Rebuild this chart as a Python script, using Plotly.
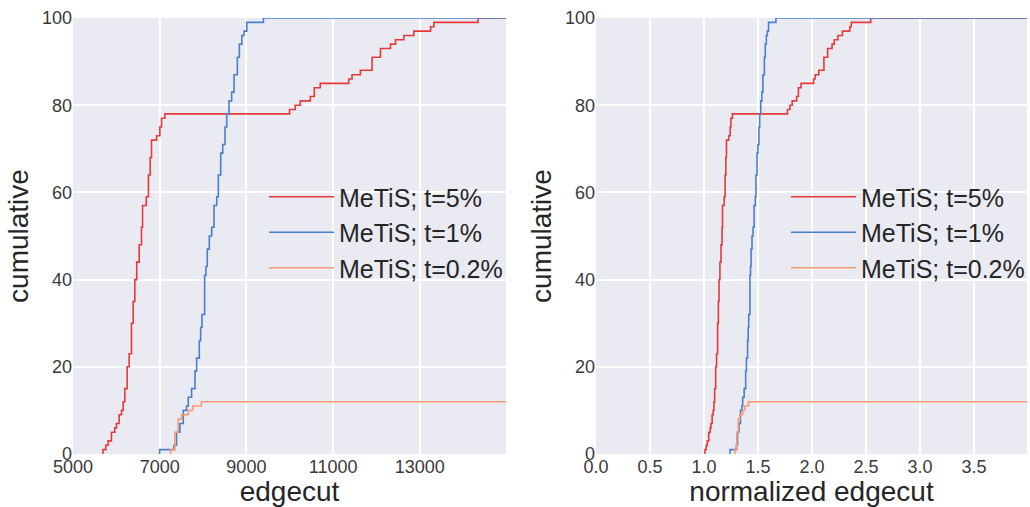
import plotly.graph_objects as go

# ---------------- data ----------------
series_names = ["MeTiS; t=5%", "MeTiS; t=1%", "MeTiS; t=0.2%"]

red_edgecut = [5690, 5690, 5756, 5810, 5887, 5964, 6003, 6064, 6118, 6157, 6195,
               6249, 6295, 6349, 6388, 6426, 6470, 6527, 6580, 6605, 6690, 6740,
               6780, 6811, 6928, 7004, 7043, 7120,
               9996, 10127, 10243, 10474, 10567, 10705, 11361, 11438, 11631,
               11900, 12093, 12325, 12440, 12633, 12864, 13250, 13327, 14345]
red_cum = [0, 1, 2, 3, 5, 6, 7, 9, 10, 12, 15,
           20, 23, 30, 35, 40, 44, 48, 52, 57, 59, 64,
           68, 72, 73, 75, 77, 78,
           79, 80, 81, 82, 84, 85, 86, 87, 88,
           91, 93, 94, 95, 96, 97, 98, 99, 100]

blue_edgecut = [7000, 7000, 7328, 7390, 7467, 7544, 7621, 7659, 7736, 7814, 7852,
                7914, 7945, 7975, 8037, 8067, 8098, 8145, 8200, 8253, 8316, 8353,
                8408, 8454, 8507, 8546, 8600, 8660, 8715, 8792, 8838, 8894, 8946,
                9009, 9393]
blue_cum = [0, 1, 2, 5, 7, 10, 11, 13, 15, 19, 22,
            26, 29, 32, 41, 43, 47, 50, 52, 57, 59, 64,
            69, 71, 75, 78, 81, 83, 87, 91, 94, 96, 97,
            99, 100]

orange_edgecut = [7251, 7251, 7351, 7428, 7505, 7660, 7760, 7960]
orange_cum = [0, 1, 5, 8, 9, 10, 11, 12]

reference_edgecut = 5640          # best edgecut used for normalisation

x1_ticks = [5000, 7000, 9000, 11000, 13000]
x1_ticktext = ["5000", "7000", "9000", "11000", "13000"]
x2_ticks = [0.0, 0.5, 1.0, 1.5, 2.0, 2.5, 3.0, 3.5]
x2_ticktext = ["0.0", "0.5", "1.0", "1.5", "2.0", "2.5", "3.0", "3.5"]
y_ticks = [0, 20, 40, 60, 80, 100]
y_ticktext = ["0", "20", "40", "60", "80", "100"]

x1_range = [5000, 14990]
x2_range = [0, 3.99]
y_range = [0, 100]

colors = ["#E8393A", "#4A7FCF", "#FB9A72"]

# ---------------- figure ----------------
FONT = "Liberation Sans, Arial, sans-serif"
tick_font = dict(family=FONT, size=18, color="#3a3a3a")
title_font = dict(family=FONT, size=28, color="#262626")
legend_font = dict(family=FONT, size=25, color="#262626")

fig = go.Figure()
all_series = [(red_edgecut, red_cum), (blue_edgecut, blue_cum), (orange_edgecut, orange_cum)]
for name, (xs, ys), col in zip(series_names, all_series, colors):
    fig.add_trace(go.Scatter(
        x=xs + [x1_range[1]], y=ys + [ys[-1]], mode="lines", name=name,
        line=dict(color=col, width=1.6, shape="hv"),
        xaxis="x", yaxis="y", legend="legend"))
    fig.add_trace(go.Scatter(
        x=[v / reference_edgecut for v in xs] + [x2_range[1]], y=ys + [ys[-1]],
        mode="lines", name=name,
        line=dict(color=col, width=1.6, shape="hv"),
        xaxis="x2", yaxis="y2", legend="legend2"))

W, H = 1030, 507
ydom = [1 - 454 / H, 1 - 18 / H]

axis_common = dict(showgrid=True, gridcolor="white", gridwidth=1.5, zeroline=False,
                   showline=False, ticks="", tickfont=tick_font, automargin=False)

fig.update_layout(
    width=W, height=H,
    margin=dict(l=0, r=0, t=0, b=0),
    paper_bgcolor="white", plot_bgcolor="#EAEAF2",
    xaxis=dict(domain=[73 / W, 506 / W], range=x1_range, tickvals=x1_ticks,
               ticktext=x1_ticktext, anchor="y",
               title=dict(text="edgecut", font=title_font, standoff=3), **axis_common),
    yaxis=dict(domain=ydom, range=y_range, tickvals=y_ticks, ticktext=y_ticktext,
               anchor="x", title=dict(text="cumulative", font=title_font, standoff=5),
               **axis_common),
    xaxis2=dict(domain=[596 / W, 1027 / W], range=x2_range, tickvals=x2_ticks,
                ticktext=x2_ticktext, anchor="y2",
                title=dict(text="normalized edgecut", font=title_font, standoff=3),
                **axis_common),
    yaxis2=dict(domain=ydom, range=y_range, tickvals=y_ticks, ticktext=y_ticktext,
                anchor="x2", title=dict(text="cumulative", font=title_font, standoff=5),
                **axis_common),
    legend=dict(x=264 / W, y=1 - 174 / H, xanchor="left", yanchor="top",
                bgcolor="rgba(0,0,0,0)", font=legend_font, itemwidth=65),
    legend2=dict(x=786 / W, y=1 - 174 / H, xanchor="left", yanchor="top",
                 bgcolor="rgba(0,0,0,0)", font=legend_font, itemwidth=65),
)

fig.write_html("out.html", config={"displayModeBar": False},
               post_script="document.body.style.margin='0';document.body.style.overflow='hidden';")
